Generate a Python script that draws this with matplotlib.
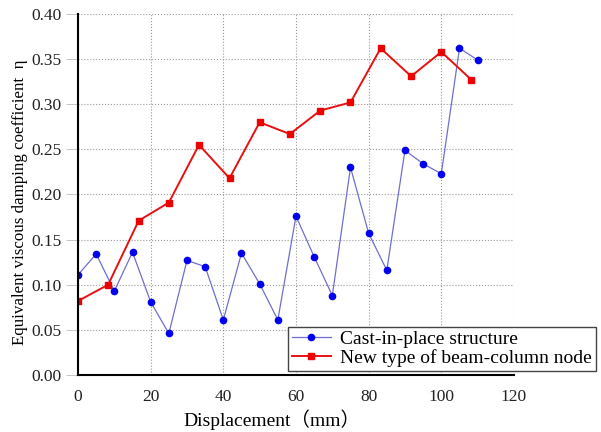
import matplotlib.pyplot as plt

# 现浇结构
cast_x = [0, 5, 10, 15, 20, 25, 30, 35, 40, 45, 50, 55, 60, 65, 70, 75,
          80, 85, 90, 95, 100, 105, 110]
cast_eta = [0.111, 0.134, 0.093, 0.136, 0.081, 0.046, 0.127, 0.120, 0.061,
            0.135, 0.101, 0.061, 0.176, 0.131, 0.088, 0.230, 0.157, 0.116,
            0.249, 0.234, 0.223, 0.362, 0.349]

# 新型梁柱节点
node_x = [0, 8.3, 16.7, 25, 33.3, 41.7, 50, 58.3, 66.7, 75, 83.3, 91.7,
          100, 108.3]
node_eta = [0.082, 0.100, 0.171, 0.191, 0.255, 0.218, 0.280, 0.267, 0.293,
            0.302, 0.362, 0.331, 0.358, 0.327]

x_ticks = [0, 20, 40, 60, 80, 100, 120]
y_ticks = [0.00, 0.05, 0.10, 0.15, 0.20, 0.25, 0.30, 0.35, 0.40]

fonts = ['Liberation Serif', 'Noto Sans CJK SC', 'DejaVu Serif']
plt.rcParams['font.family'] = fonts

fig = plt.figure(figsize=(6.01, 4.32), dpi=100)
ax = fig.add_axes([0.1298, 0.132, 0.7254, 0.8356])

ax.plot(cast_x, cast_eta, color='#6f6fd0', lw=0.9, marker='o', ms=4.5,
        mfc='#0000ee', mec='#0000ee', label='Cast-in-place structure')
ax.plot(node_x, node_eta, color='#e81010', lw=1.4, marker='s', ms=4.5,
        mfc='#ee0000', mec='#ee0000', label='New type of beam-column node')

ax.set_xlim(0, 120)
ax.set_ylim(0, 0.40)
ax.set_xticks(x_ticks)
ax.set_yticks(y_ticks)
ax.set_yticklabels(['%.2f' % v for v in y_ticks])
ax.tick_params(axis='x', length=0, labelsize=12.5, pad=10, colors='#222222')
ax.tick_params(axis='y', length=9, width=0.6, color='#bbbbbb',
               labelsize=12.5, pad=3, labelcolor='#222222')

ax.grid(True, ls=':', color='#999999', lw=0.8)
ax.set_axisbelow(True)
for s in ['top', 'right']:
    ax.spines[s].set_visible(False)
for s in ['left', 'bottom']:
    ax.spines[s].set_linewidth(1.5)
    ax.spines[s].set_color('black')

ax.set_xlabel('Displacement（mm）', fontsize=14)
ax.xaxis.set_label_coords(0.444, -0.095)
ax.set_ylabel('Equivalent viscous damping coefficient  η', fontsize=12.2)
ax.yaxis.set_label_coords(-0.115, 0.478)

leg = ax.legend(loc='lower right', bbox_to_anchor=(596 / 601, 1 - 371 / 432),
                bbox_transform=fig.transFigure, fontsize=14, frameon=True,
                fancybox=False, framealpha=1, edgecolor='#444444',
                borderpad=0.2, labelspacing=0.05, handlelength=2.0,
                handletextpad=0.5, borderaxespad=0)
leg.get_frame().set_linewidth(1.0)

plt.savefig('out.png', dpi=100)
plt.close()
